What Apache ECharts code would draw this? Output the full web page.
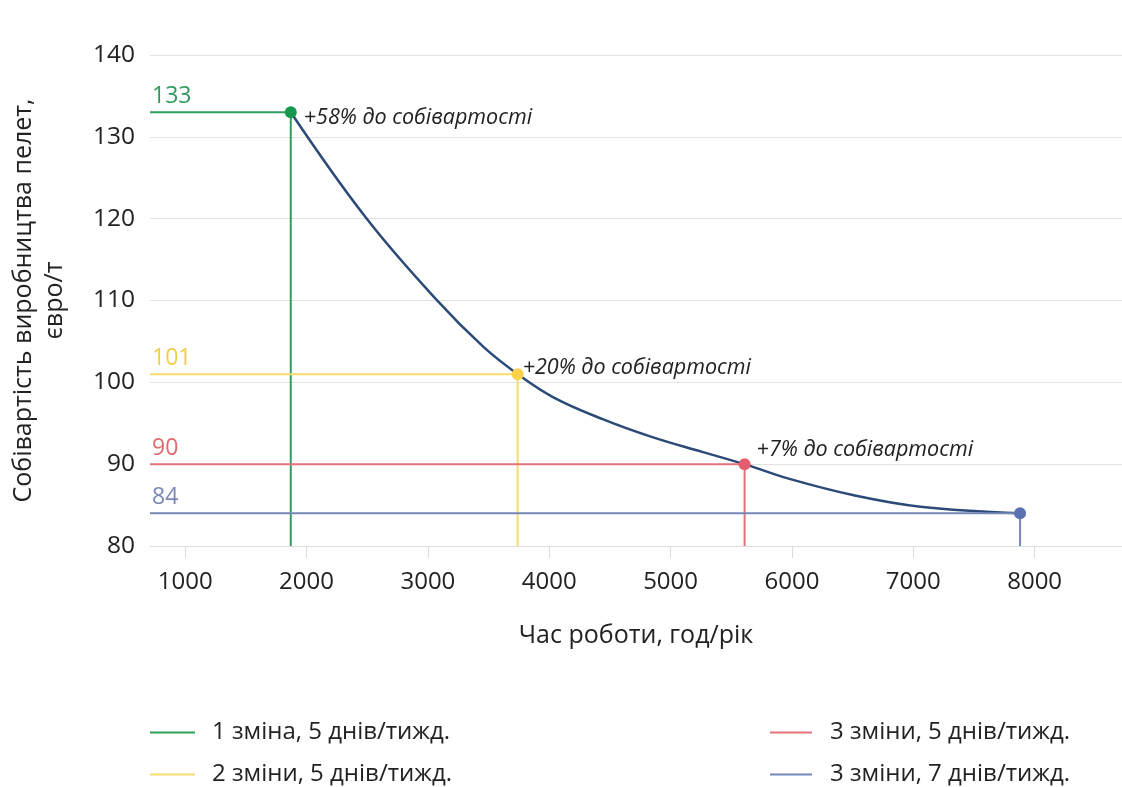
<!DOCTYPE html>
<html>
<head>
<meta charset="utf-8">
<script src="https://cdn.jsdelivr.net/npm/echarts@6/dist/echarts.min.js"></script>
<style>
  html, body { margin: 0; padding: 0; background: #ffffff; }
  #chart { width: 1122px; height: 787px; }
</style>
</head>
<body>
<div id="chart"></div>
<script>
// Operating hours per year (x) and pellet production cost, EUR/t (y)
const xMin = 710;
const xMax = 8720;
const xTicks = [1000, 2000, 3000, 4000, 5000, 6000, 7000, 8000];
const yMin = 80;
const yMax = 140;

// Cost curve along operating hours
const curveHours = [1870, 2490, 3070, 3460, 3740, 4030, 4440, 4850, 5260, 5610, 5980, 6510, 7060, 7880];
const curveCost  = [133, 120.1, 110.1, 104.3, 101, 98.2, 95.5, 93.3, 91.5, 90, 88.2, 86.2, 84.8, 84];

// Shift regimes
const regimeNames = ['1 зміна, 5 днів/тижд.', '2 зміни, 5 днів/тижд.', '3 зміни, 5 днів/тижд.', '3 зміни, 7 днів/тижд.'];
const regimeHours = [1870, 3740, 5610, 7880];
const regimeCost  = [133, 101, 90, 84];
const regimeNotes = ['+58% до собівартості', '+20% до собівартості', '+7% до собівартості', ''];

const lineColors  = ['#2e9e5b', '#f6dc6c', '#e2737b', '#7487b6'];
const dotColors   = ['#16994c', '#fbd24c', '#e35e6e', '#5a72b2'];
const labelColors = ['#2f9a5c', '#f0cf4a', '#df6a6f', '#7a87b6'];
const noteOffsets = [[3, 6], [-5, -6], [2, -14], [0, 0]];

const FONT = '"Open Sans", "Noto Sans", sans-serif';

const chart = echarts.init(document.getElementById('chart'), null, { renderer: 'canvas' });

const regimeSeries = regimeNames.map((name, i) => ({
  name: name,
  type: 'line',
  z: 3,
  symbol: 'none',
  lineStyle: { color: lineColors[i], width: 2 },
  itemStyle: { color: lineColors[i] },
  emphasis: { disabled: true },
  data: [
    {
      value: [xMin, regimeCost[i]],
      symbol: 'circle', symbolSize: 0,
      label: {
        show: true, position: 'top', align: 'left', distance: 4, offset: [2, 0],
        formatter: String(regimeCost[i]),
        color: labelColors[i], fontSize: 23, fontFamily: FONT
      }
    },
    {
      value: [regimeHours[i], regimeCost[i]],
      symbol: 'circle', symbolSize: 12,
      itemStyle: { color: dotColors[i], borderWidth: 0 },
      label: {
        show: regimeNotes[i] !== '', position: 'right', distance: 4, offset: noteOffsets[i],
        formatter: regimeNotes[i],
        color: '#222222', fontSize: 21.5, fontStyle: 'italic', fontFamily: FONT
      }
    },
    { value: [regimeHours[i], yMin], symbol: 'none' }
  ]
}));

const legendBase = {
  orient: 'vertical',
  top: 720,
  padding: 0,
  icon: 'rect',
  itemHeight: 2,
  itemGap: 17,
  selectedMode: false
};

const option = {
  backgroundColor: '#ffffff',
  animation: false,
  grid: { left: 145, right: 0, top: 55, bottom: 241 },
  xAxis: {
    type: 'value',
    min: xMin,
    max: xMax,
    name: 'Час роботи, год/рік',
    nameLocation: 'middle',
    nameGap: 77,
    nameTextStyle: { fontSize: 25, color: '#222222', fontFamily: FONT },
    axisLine: { show: true, lineStyle: { color: '#dedede', width: 1 } },
    axisTick: { show: true, customValues: xTicks, length: 12, lineStyle: { color: '#dcdcdc' } },
    axisLabel: {
      customValues: xTicks, fontSize: 24, color: '#222222', margin: 24, fontFamily: FONT,
      formatter: (v) => String(v)
    },
    splitLine: { show: false }
  },
  yAxis: {
    type: 'value',
    min: yMin,
    max: yMax,
    interval: 10,
    name: 'Собівартість виробництва пелет,\nєвро/т',
    nameLocation: 'middle',
    nameGap: 80,
    nameRotate: 90,
    nameTextStyle: { fontSize: 25, color: '#222222', lineHeight: 31, fontFamily: FONT },
    axisLine: { show: false },
    axisTick: { show: false },
    axisLabel: { fontSize: 24.5, color: '#222222', margin: 15, fontFamily: FONT },
    splitLine: { show: true, lineStyle: { color: '#e2e2e2', width: 1 } }
  },
  legend: [
    Object.assign({}, legendBase, {
      data: regimeNames.slice(0, 2),
      left: 150,
      itemWidth: 45,
      textStyle: { fontSize: 24, lineHeight: 25, color: '#222222', fontFamily: FONT, padding: [0, 0, 0, 12] }
    }),
    Object.assign({}, legendBase, {
      data: regimeNames.slice(2, 4),
      left: 770,
      itemWidth: 42,
      textStyle: { fontSize: 24, lineHeight: 25, color: '#222222', fontFamily: FONT, padding: [0, 0, 0, 13] }
    })
  ],
  series: [
    {
      name: 'curve',
      type: 'line',
      z: 2,
      smooth: 0.4,
      symbol: 'none',
      lineStyle: { color: '#2b4a78', width: 2.5 },
      emphasis: { disabled: true },
      data: curveHours.map((h, i) => [h, curveCost[i]])
    }
  ].concat(regimeSeries)
};

chart.setOption(option);
</script>
</body>
</html>
